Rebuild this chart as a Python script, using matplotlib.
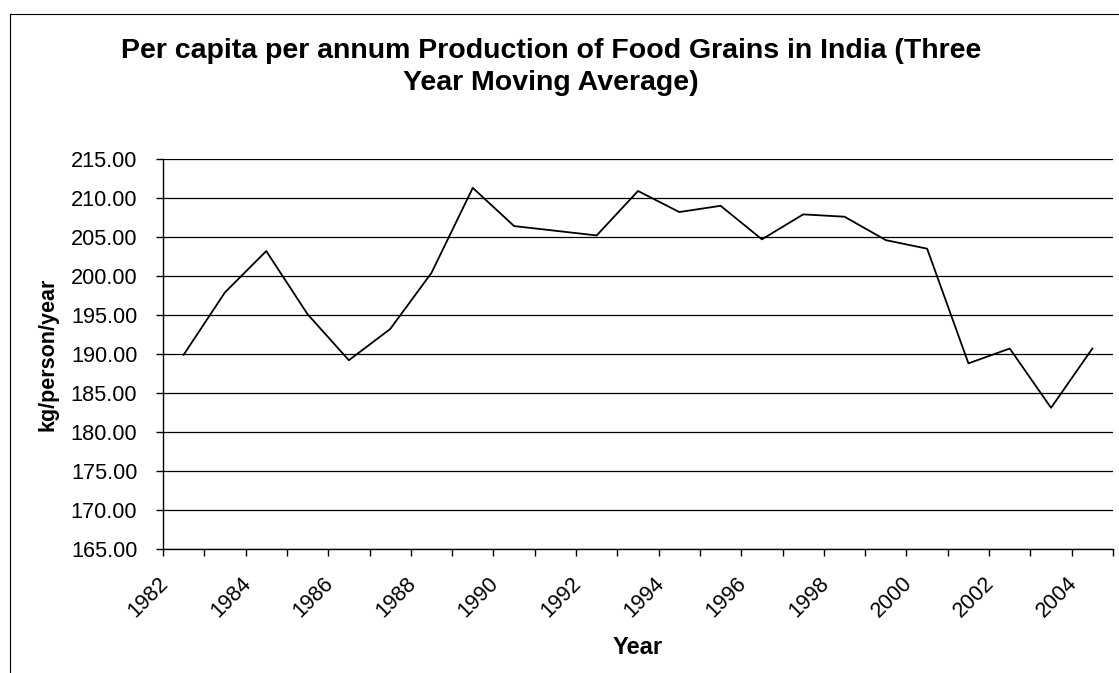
import matplotlib.pyplot as plt
import matplotlib.transforms as mtransforms
from matplotlib.lines import Line2D
import numpy as np

plt.rcParams['font.family'] = ['Liberation Sans', 'DejaVu Sans']

# Data (three-year moving average, kg/person/year)
years = list(range(1982, 2005))
production = [189.9, 197.9, 203.2, 195.1, 189.2, 193.2, 200.4, 211.3, 206.4, 205.8,
              205.2, 210.9, 208.2, 209.0, 204.7, 207.9, 207.6, 204.6, 203.5, 188.8,
              190.7, 183.1, 190.7]
y_ticks = [165, 170, 175, 180, 185, 190, 195, 200, 205, 210, 215]

fig = plt.figure(figsize=(11.19, 6.73), dpi=100)
W, H = 1119, 673
ax = fig.add_axes([163 / W, 1 - 549 / H, (1113 - 163) / W, (549 - 159) / H])

n = len(years)
x = np.arange(n) + 0.5
ax.plot(x, production, color='black', linewidth=1.3, zorder=3)

ax.set_xlim(0, n)
ax.set_ylim(165, 215)
ax.set_yticks(y_ticks)
ax.set_yticklabels([f'{v:.2f}' for v in y_ticks], fontsize=15.7)
ax.yaxis.grid(True, color='black', linewidth=0.9)
ax.set_axisbelow(True)

# category boundary ticks, labels on every other year
ax.set_xticks(np.arange(n + 1))
ax.set_xticklabels([])
ax.set_xticks(x[::2], minor=True)
ax.set_xticklabels([str(y) for y in years[::2]], minor=True, fontsize=15.5,
                   rotation=45, ha='right', va='top')
ax.tick_params(axis='x', which='minor', length=0, pad=17)
ax.tick_params(axis='x', which='major', length=5, width=1, direction='out')
ax.tick_params(axis='y', length=5, width=1, direction='out', pad=13.5)
shift = mtransforms.ScaledTranslation(-11 / 100, 0, fig.dpi_scale_trans)
for lbl in ax.xaxis.get_minorticklabels():
    lbl.set_transform(lbl.get_transform() + shift)

for s in ['top', 'right']:
    ax.spines[s].set_visible(False)
for s in ['left', 'bottom']:
    ax.spines[s].set_linewidth(1)

ax.set_xlabel('Year', fontsize=17, fontweight='bold', labelpad=10)
ax.set_ylabel('kg/person/year', fontsize=15.5, fontweight='bold', labelpad=9)

fig.text(551 / W, 1 - 67 / H,
         'Per capita per annum Production of Food Grains in India (Three\nYear Moving Average)',
         ha='center', va='center', fontsize=20.5, fontweight='bold', linespacing=1.25)

# outer chart frame (scanned border)
fig.add_artist(Line2D([10 / W, 1], [1 - 14 / H, 1 - 14 / H], color='black', linewidth=0.8,
                      transform=fig.transFigure))
fig.add_artist(Line2D([10 / W, 10 / W], [0, 1 - 14 / H], color='black', linewidth=0.8,
                      transform=fig.transFigure))

fig.savefig('out.png', dpi=100)
